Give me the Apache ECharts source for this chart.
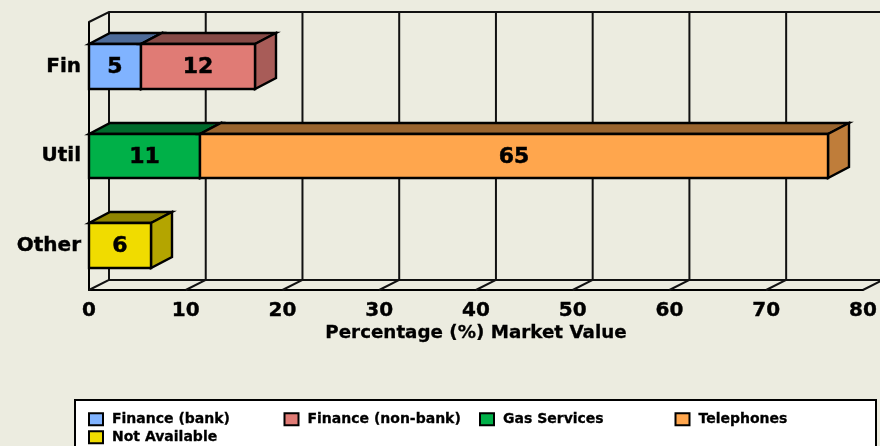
<!DOCTYPE html>
<html lang="en">
<head>
    <meta charset="utf-8">
    <title>Market Value</title>
    <script src="https://cdn.jsdelivr.net/npm/echarts@6/dist/echarts.min.js"></script>
    <style>
        html, body { margin: 0; padding: 0; background: #ecece0; }
        #chart { width: 880px; height: 446px; }
    </style>
</head>
<body>
<div id="chart"></div>
<script type="text/javascript">
    // values (the printed labels are rounded)
    var categories = ['Fin', 'Util', 'Other'];
    var xTicks = [0, 10, 20, 30, 40, 50, 60, 70, 80];
    var financeBank = [5.4, 0, 0];
    var financeNonBank = [11.8, 0, 0];
    var gasServices = [0, 11.49, 0];
    var telephones = [0, 64.9, 0];
    var notAvailable = [0, 0, 6.4];

    var seriesNames = ['Finance (bank)', 'Finance (non-bank)', 'Gas Services', 'Telephones', 'Not Available'];
    var seriesValues = [financeBank, financeNonBank, gasServices, telephones, notAvailable];
    var seriesColors = ['#80b3ff', '#e07b75', '#00b048', '#ffa64d', '#f0dc00'];

    var font = '"DejaVu Sans", Verdana, sans-serif';
    var depthX = 20;
    var depthY = 10;
    var barDepthX = 21;
    var barDepthY = 11;

    function shade(color, k) {
        var c = echarts.color.parse(color);
        return 'rgb(' + Math.round(c[0] * k) + ',' + Math.round(c[1] * k) + ',' + Math.round(c[2] * k) + ')';
    }

    function poly(points, fill) {
        return {
            type: 'polygon',
            shape: {points: points},
            style: {fill: fill, stroke: '#000', lineWidth: 2.4, lineJoin: 'miter'}
        };
    }

    // one stacked segment: front face, top and right side
    function renderBar(params, api) {
        var top = Math.round(api.coord([0, api.value(2)])[1] - api.size([0, 1])[1] * 0.25);
        var bottom = Math.round(api.coord([0, api.value(2)])[1] + api.size([0, 1])[1] * 0.25);
        var x0 = Math.round(api.coord([api.value(0), 0])[0]);
        var x1 = Math.round(api.coord([api.value(1), 0])[0]);
        var color = api.visual('color');
        return {
            type: 'group',
            children: [
                poly([[x0, top], [x0 + barDepthX, top - barDepthY], [x1 + barDepthX, top - barDepthY], [x1, top]], shade(color, 0.6)),
                poly([[x1, top], [x1 + barDepthX, top - barDepthY], [x1 + barDepthX, bottom - barDepthY], [x1, bottom]], shade(color, 0.75)),
                poly([[x0, top], [x1, top], [x1, bottom], [x0, bottom]], color),
                {
                    type: 'text',
                    style: {
                        text: String(Math.round(api.value(1) - api.value(0))),
                        x: (x0 + x1) / 2,
                        y: (top + bottom) / 2 + 1,
                        align: 'center',
                        verticalAlign: 'middle',
                        fill: '#000',
                        stroke: '#000',
                        lineWidth: 0.5,
                        font: 'bold 22px ' + font
                    }
                }
            ]
        };
    }

    // back wall and floor lines for one x tick
    function renderWall(params, api) {
        var t = api.value(0);
        var rect = params.coordSys;
        var x = api.coord([t, 0])[0];
        var head = rect.y;
        var foot = rect.y + rect.height;
        var style = {stroke: '#111', lineWidth: 2, fill: null};
        var children = [{
            type: 'polyline',
            shape: {points: [[x, foot], [x + depthX, foot - depthY], [x + depthX, head - depthY]]},
            style: style
        }];
        if (params.dataIndex === 0) {
            var end = rect.x + rect.width;
            children.push({
                type: 'polyline',
                shape: {points: [[x, head], [x + depthX, head - depthY], [end + depthX, head - depthY]]},
                style: style
            });
            children.push({
                type: 'line',
                shape: {x1: x + depthX, y1: foot - depthY, x2: end + depthX, y2: foot - depthY},
                style: style
            });
        }
        return {type: 'group', children: children};
    }

    var starts = categories.map(function () { return 0; });
    var barSeries = seriesNames.map(function (name, s) {
        var data = [];
        seriesValues[s].forEach(function (v, c) {
            if (v > 0) {
                data.push([starts[c], starts[c] + v, c]);
                starts[c] += v;
            }
        });
        return {
            name: name,
            type: 'custom',
            renderItem: renderBar,
            encode: {x: [0, 1], y: 2},
            itemStyle: {color: seriesColors[s]},
            z: 5,
            data: data
        };
    });

    var wallSeries = {
        type: 'custom',
        renderItem: renderWall,
        encode: {x: 0},
        silent: true,
        z: 1,
        data: xTicks.map(function (t) { return [t]; })
    };

    var legendLeft = [88, 283.5, 479, 674.5, 88];
    var legendTop = [412, 412, 412, 412, 430];
    var legends = seriesNames.map(function (name, i) {
        return {
            data: [name],
            left: legendLeft[i],
            top: legendTop[i],
            padding: 0,
            itemWidth: 14,
            itemHeight: 12,
            icon: 'rect',
            selectedMode: false,
            itemStyle: {borderColor: '#000', borderWidth: 2},
            textStyle: {
                color: '#000',
                fontFamily: font,
                fontWeight: 'bold',
                fontSize: 14,
                textBorderColor: '#000',
                textBorderWidth: 0.3,
                padding: [0, 0, 0, 4]
            }
        };
    });

    var myChart = echarts.init(document.getElementById('chart'));
    myChart.setOption({
        animation: false,
        backgroundColor: '#ecece0',
        grid: {left: 89, width: 774.5, top: 22, height: 268},
        xAxis: {
            type: 'value',
            min: 0,
            max: 80,
            interval: 10,
            name: 'Percentage (%) Market Value',
            nameLocation: 'middle',
            nameGap: 34,
            nameMoveOverlap: false,
            nameTextStyle: {color: '#000', fontFamily: font, fontWeight: 'bold', fontSize: 18.3, textBorderColor: '#000', textBorderWidth: 0.3},
            axisLine: {show: true, onZero: false, lineStyle: {color: '#000', width: 2}},
            axisTick: {show: false},
            splitLine: {show: false},
            axisLabel: {
                color: '#000',
                fontFamily: font,
                fontWeight: 'bold',
                fontSize: 20,
                margin: 11,
                textBorderColor: '#000',
                textBorderWidth: 0.4,
                showMinLabel: true,
                showMaxLabel: true
            }
        },
        yAxis: {
            type: 'category',
            inverse: true,
            data: categories,
            axisLine: {show: true, onZero: false, lineStyle: {color: '#000', width: 2}},
            axisTick: {show: false},
            axisLabel: {
                color: '#000',
                fontFamily: font,
                fontWeight: 'bold',
                fontSize: 20,
                margin: 8,
                textBorderColor: '#000',
                textBorderWidth: 0.4
            }
        },
        legend: legends,
        graphic: [{
            type: 'rect',
            z: -1,
            shape: {x: 75, y: 400, width: 801, height: 50},
            style: {fill: '#fff', stroke: '#000', lineWidth: 2}
        }],
        series: [wallSeries].concat(barSeries)
    });
</script>
</body>
</html>
